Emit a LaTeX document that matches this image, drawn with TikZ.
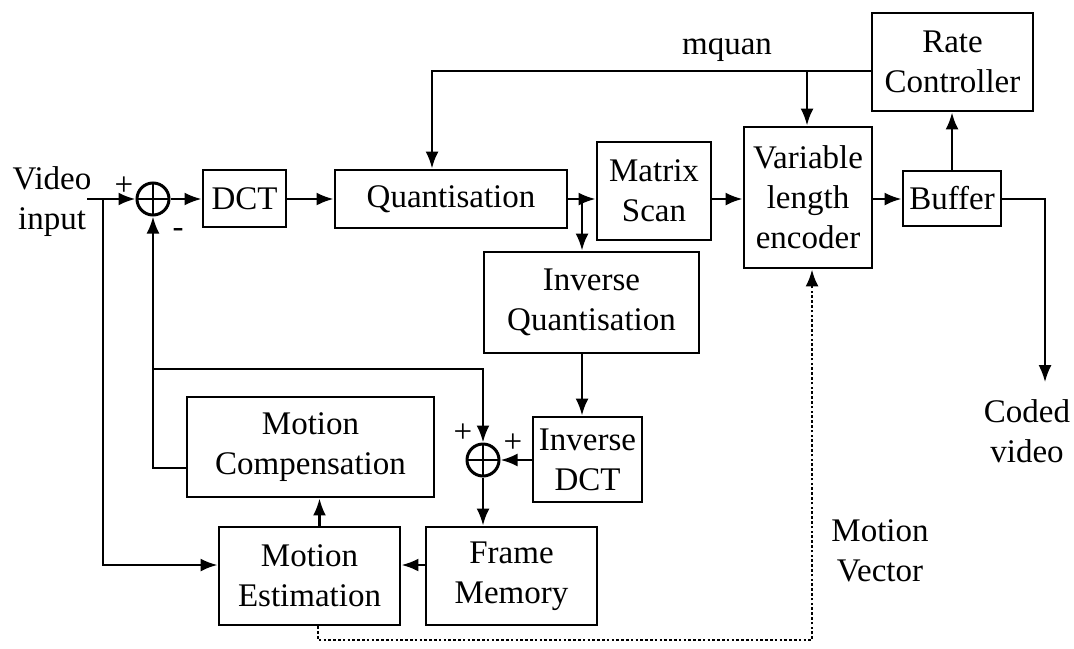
\documentclass[tikz,border=0pt]{standalone}
\usepackage{fontspec}
\setmainfont{Liberation Serif}
\usetikzlibrary{arrows.meta}

\begin{document}
\begin{tikzpicture}[
			x=0.5pt, y=-0.5pt,
			font=\fontsize{16.5}{20}\selectfont,
			blk/.style={draw, line width=1.4pt, inner sep=0pt, align=center},
			sumjn/.style={circle, draw, line width=1.5pt, minimum size=16pt, inner sep=0pt,
					path picture={\draw[line width=0.8pt] (path picture bounding box.west) -- (path picture bounding box.east)
							(path picture bounding box.north) -- (path picture bounding box.south);}},
			lbl/.style={align=center, inner sep=0pt},
			ln/.style={line width=1.3pt},
			arr/.style={ln, -{Latex[length=8.5pt,width=6.5pt]}},
			dotarr/.style={arr, dash pattern=on 1.3pt off 1.1pt},
		]
		\useasboundingbox (0,0) rectangle (1074,648);
		% blocks
		\node[blk, minimum width=41.5pt, minimum height=28.5pt] (dct) at (244.5,198.5) {DCT};
		\node[blk, minimum width=116pt, minimum height=29pt] (quant) at (451,199) {Quantisation};
		\node[blk, minimum width=57pt, minimum height=49pt] (scan) at (654,191) {Matrix\\Scan};
		\node[blk, minimum width=64pt, minimum height=70.5pt] (vle) at (808,197.5) {Variable\\length\\encoder};
		\node[blk, minimum width=49pt, minimum height=27.5pt] (buf) at (952,198.5) {Buffer};
		\node[blk, minimum width=80.5pt, minimum height=49pt] (rate) at (952.5,62) {Rate\\Controller};
		\node[blk, minimum width=107.5pt, minimum height=50.5pt] (invq) at (591.5,302.5) {Inverse\\Quantisation};
		\node[blk, minimum width=54.5pt, minimum height=42.5pt] (invdct) at (587.5,459.5) {Inverse\\DCT};
		\node[blk, minimum width=123.5pt, minimum height=50pt] (mc) at (310.5,447) {Motion\\Compensation};
		\node[blk, minimum width=90.5pt, minimum height=49pt] (me) at (309.5,576) {Motion\\Estimation};
		\node[blk, minimum width=85.5pt, minimum height=49pt] (fm) at (511.5,576) {Frame\\Memory};
		\node[sumjn] (s1) at (153,199) {};
		\node[sumjn] (s2) at (483,460) {};

		% texts
		\node[lbl] (vidin) at (52,202) {Video\\input};
		\node[lbl] (p1) at (124,186) {+};
		\node[lbl] (m1) at (178,233) {-};
		\node[lbl] (p2) at (463,433) {+};
		\node[lbl] (p3) at (513,443) {+};
		\node[lbl] (mqlbl) at (727,50) {mquan};
		\node[lbl] (coded) at (1027,431) {Coded\\video};
		\node[lbl] (mvec) at (880,551) {Motion\\Vector};

		% helper points
		\coordinate (mid) at (0,199);
		\coordinate (inp) at (87,199);
		\coordinate (ibr) at (103,199);
		\coordinate (qbr) at (582,199);
		\coordinate (mq) at (432,71);
		\coordinate (mqbr) at (807,71);
		\coordinate (out) at (1045,382);
		\coordinate (fb) at (153,369);
		\coordinate (mcy) at (0,468);
		\coordinate (mey) at (0,565);
		\coordinate (mvl) at (318,640);
		\coordinate (mvr) at (812,640);

		% forward path
		\draw[arr] (inp) -- (s1.west);
		\draw[arr] (ibr) |- (me.west |- mey);
		\draw[arr] (s1.east) -- (s1.east -| dct.west);
		\draw[arr] (dct.east |- mid) -- (quant.west |- mid);
		\draw[arr] (quant.east |- mid) -- (scan.west |- mid);
		\draw[arr] (qbr) -- (qbr |- invq.north);
		\draw[arr] (scan.east |- mid) -- (vle.west |- mid);
		\draw[arr] (vle.east |- mid) -- (buf.west |- mid);
		\draw[arr, line width=0.9pt] (buf.east |- mid) -| (out);
		\draw[arr] (buf.north) -- (buf.north |- rate.south);
		% mquan
		\draw[arr] (rate.west |- mq) -- (mq) -- (mq |- quant.north);
		\draw[arr] (mqbr) -- (mqbr |- vle.north);
		% local decoder
		\draw[arr] (qbr |- invq.south) -- (qbr |- invdct.north);
		\draw[arr] (invdct.west |- s2) -- (s2.east);
		\draw[arr] (s2.south) -- (s2.south |- fm.north);
		\draw[arr] (fm.west |- mey) -- (me.east |- mey);
		\draw[arr] ([xshift=5pt]me.north) -- ([xshift=5pt]me.north |- mc.south);
		\draw[arr] (mc.west |- mcy) -| (s1.south);
		\draw[arr] (fb) -| (s2.north);
		% motion vectors
		\draw[dotarr] (mvl |- me.south) -- (mvl) -- (mvr) -- (mvr |- vle.south);
	\end{tikzpicture}
\end{document}
